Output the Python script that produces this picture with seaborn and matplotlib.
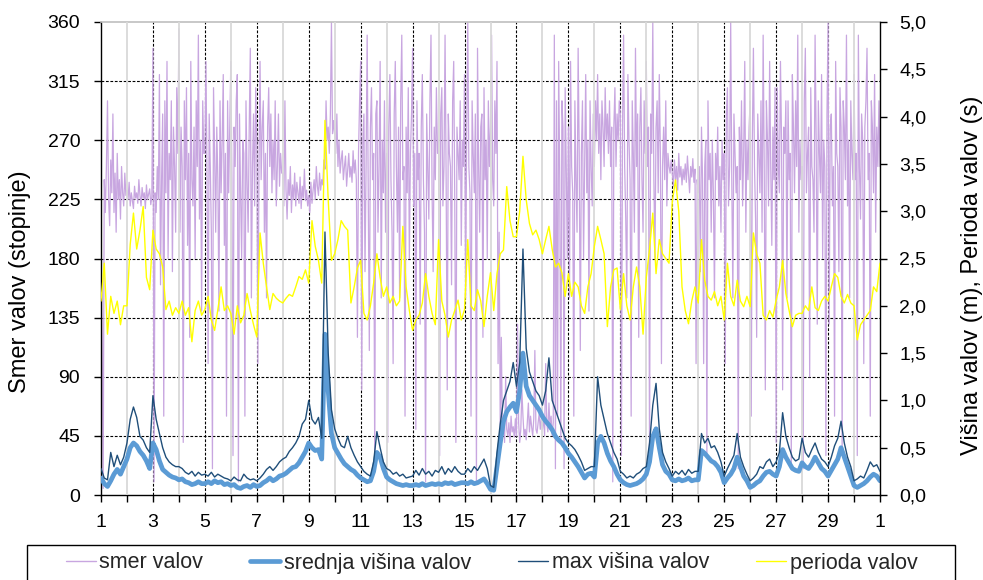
import numpy as np
import pandas as pd
import seaborn as sns
import matplotlib.pyplot as plt
from matplotlib.patches import Rectangle
from matplotlib.lines import Line2D
from matplotlib.ticker import FuncFormatter

# ---- data: one row per day ----
# wave direction (degrees), hourly readings
smer_valov = [
    [195, 120, 5, 240, 215, 250, 300, 225, 205, 255, 230, 290, 215, 245, 200, 260, 225, 240, 210, 250, 230, 220, 245, 228],
    [232, 225, 238, 220, 230, 224, 218, 235, 226, 230, 222, 240, 228, 220, 234, 226, 230, 218, 236, 225, 229, 233, 221, 227],
    [340, 10, 230, 215, 250, 225, 320, 160, 240, 290, 60, 300, 230, 330, 180, 260, 240, 300, 170, 280, 250, 200, 310, 260],
    [355, 200, 280, 250, 40, 300, 240, 310, 190, 260, 120, 330, 240, 220, 280, 180, 300, 250, 350, 210, 270, 140, 300, 260],
    [260, 330, 240, 100, 290, 250, 200, 20, 310, 260, 200, 280, 240, 140, 300, 230, 270, 320, 190, 260, 60, 300, 230, 280],
    [330, 240, 30, 280, 250, 300, 320, 10, 290, 230, 180, 270, 260, 60, 300, 240, 200, 280, 340, 150, 250, 290, 220, 310],
    [270, 100, 250, 330, 240, 280, 300, 200, 260, 150, 280, 310, 250, 290, 230, 270, 240, 300, 220, 250, 290, 235, 260, 245],
    [245, 220, 300, 232, 210, 240, 228, 250, 215, 236, 225, 245, 220, 238, 230, 222, 242, 218, 235, 226, 248, 224, 232, 220],
    [228, 215, 238, 222, 232, 240, 225, 250, 235, 228, 245, 232, 240, 236, 255, 248, 300, 270, 280, 260, 290, 360, 275, 285],
    [275, 260, 290, 250, 270, 245, 255, 262, 240, 250, 258, 235, 248, 260, 242, 250, 238, 262, 245, 255, 240, 120, 260, 300],
    [330, 80, 270, 290, 170, 250, 350, 230, 110, 280, 310, 240, 260, 20, 290, 300, 200, 250, 330, 150, 270, 230, 300, 200],
    [260, 40, 280, 320, 240, 200, 100, 290, 330, 250, 200, 280, 150, 300, 350, 240, 250, 60, 280, 230, 310, 180, 260, 290],
    [340, 220, 260, 50, 300, 240, 260, 130, 280, 320, 240, 200, 10, 290, 250, 210, 300, 350, 230, 170, 280, 240, 310, 260],
    [270, 30, 290, 310, 220, 250, 350, 240, 80, 290, 260, 250, 160, 300, 330, 220, 40, 280, 260, 240, 300, 190, 270, 250],
    [320, 150, 280, 360, 250, 230, 60, 300, 260, 230, 290, 10, 340, 250, 200, 280, 290, 120, 310, 240, 270, 180, 300, 250],
    [280, 350, 240, 220, 300, 260, 330, 100, 200, 50, 120, 45, 60, 40, 90, 50, 45, 55, 40, 60, 48, 52, 44, 58],
    [45, 130, 55, 40, 50, 80, 60, 45, 50, 42, 55, 70, 48, 60, 52, 45, 58, 110, 50, 47, 55, 62, 50, 58],
    [50, 60, 45, 100, 55, 48, 70, 52, 60, 45, 55, 350, 20, 300, 60, 330, 240, 40, 300, 280, 20, 310, 250, 180],
    [280, 150, 330, 250, 230, 60, 300, 240, 200, 340, 260, 110, 260, 300, 180, 250, 320, 230, 270, 140, 300, 250, 220, 290],
    [250, 300, 270, 320, 260, 290, 240, 300, 280, 250, 310, 270, 290, 260, 300, 250, 280, 10, 280, 310, 250, 290, 270, 300],
    [290, 30, 280, 350, 250, 210, 150, 320, 270, 240, 60, 300, 260, 200, 340, 250, 290, 120, 280, 310, 240, 200, 300, 260],
    [330, 250, 280, 30, 290, 260, 360, 240, 180, 280, 300, 230, 320, 260, 100, 250, 280, 240, 300, 220, 260, 250, 245, 255],
    [245, 235, 255, 240, 250, 232, 260, 242, 250, 236, 248, 240, 252, 238, 258, 244, 230, 250, 242, 256, 238, 248, 100, 240],
    [230, 250, 170, 280, 240, 100, 250, 270, 30, 300, 240, 260, 200, 270, 230, 150, 260, 240, 280, 220, 250, 200, 270, 240],
    [260, 100, 290, 310, 220, 250, 360, 240, 150, 290, 260, 230, 250, 20, 280, 240, 300, 220, 260, 330, 200, 270, 240, 280],
    [300, 60, 270, 340, 250, 210, 120, 290, 260, 230, 300, 200, 350, 250, 80, 300, 270, 220, 330, 250, 190, 280, 240, 310],
    [40, 310, 250, 230, 330, 270, 80, 280, 260, 300, 150, 300, 240, 260, 20, 320, 280, 230, 300, 250, 350, 200, 270, 240],
    [250, 20, 300, 340, 230, 260, 280, 90, 310, 250, 240, 200, 350, 270, 130, 300, 260, 230, 320, 180, 270, 250, 30, 290],
    [360, 130, 280, 290, 220, 250, 60, 330, 260, 250, 170, 310, 280, 30, 300, 280, 240, 350, 220, 270, 150, 300, 260, 240],
    [320, 240, 260, 30, 350, 250, 210, 290, 270, 100, 280, 300, 340, 240, 260, 60, 300, 280, 230, 320, 200, 280, 250, 300],
    [250],
]

# mean wave height (m), 8 readings per day (every 3 h)
srednja_visina = [
    [0.18, 0.12, 0.09, 0.15, 0.22, 0.27, 0.22, 0.30],
    [0.38, 0.50, 0.55, 0.52, 0.46, 0.42, 0.36, 0.28],
    [0.55, 0.48, 0.36, 0.27, 0.24, 0.21, 0.19, 0.18],
    [0.16, 0.17, 0.14, 0.13, 0.11, 0.12, 0.14, 0.12],
    [0.12, 0.14, 0.12, 0.15, 0.13, 0.14, 0.11, 0.12],
    [0.10, 0.11, 0.08, 0.07, 0.09, 0.10, 0.08, 0.11],
    [0.09, 0.10, 0.13, 0.15, 0.18, 0.15, 0.17, 0.20],
    [0.21, 0.23, 0.26, 0.29, 0.30, 0.34, 0.40, 0.46],
    [0.55, 0.50, 0.47, 0.48, 0.38, 1.70, 1.10, 0.65],
    [0.50, 0.44, 0.38, 0.33, 0.30, 0.27, 0.25, 0.21],
    [0.18, 0.16, 0.14, 0.15, 0.25, 0.45, 0.40, 0.28],
    [0.19, 0.16, 0.14, 0.12, 0.11, 0.10, 0.11, 0.10],
    [0.10, 0.11, 0.10, 0.12, 0.10, 0.11, 0.12, 0.11],
    [0.12, 0.11, 0.13, 0.12, 0.13, 0.11, 0.12, 0.13],
    [0.13, 0.12, 0.14, 0.12, 0.13, 0.15, 0.17, 0.12],
    [0.06, 0.05, 0.30, 0.55, 0.78, 0.88, 0.93, 0.97],
    [0.88, 1.10, 1.50, 1.15, 1.05, 1.00, 0.95, 0.90],
    [0.83, 0.78, 0.74, 0.69, 0.62, 0.58, 0.55, 0.50],
    [0.44, 0.40, 0.35, 0.30, 0.24, 0.18, 0.22, 0.23],
    [0.19, 0.55, 0.62, 0.55, 0.44, 0.36, 0.30, 0.22],
    [0.16, 0.13, 0.11, 0.10, 0.11, 0.12, 0.14, 0.17],
    [0.22, 0.35, 0.62, 0.70, 0.50, 0.32, 0.25, 0.22],
    [0.16, 0.15, 0.17, 0.15, 0.16, 0.18, 0.15, 0.16],
    [0.16, 0.47, 0.44, 0.40, 0.36, 0.34, 0.30, 0.24],
    [0.13, 0.18, 0.22, 0.28, 0.40, 0.30, 0.20, 0.15],
    [0.08, 0.10, 0.13, 0.15, 0.20, 0.24, 0.25, 0.22],
    [0.20, 0.30, 0.48, 0.40, 0.34, 0.28, 0.26, 0.25],
    [0.34, 0.30, 0.28, 0.33, 0.40, 0.34, 0.28, 0.25],
    [0.20, 0.26, 0.32, 0.38, 0.50, 0.40, 0.30, 0.20],
    [0.10, 0.08, 0.10, 0.12, 0.15, 0.19, 0.22, 0.20],
    [0.15],
]

# maximum wave height (m), 8 readings per day
max_visina = [
    [0.28, 0.18, 0.16, 0.45, 0.30, 0.42, 0.32, 0.40],
    [0.55, 0.80, 0.93, 0.82, 0.62, 0.58, 0.50, 0.45],
    [1.05, 0.80, 0.65, 0.50, 0.40, 0.35, 0.32, 0.30],
    [0.30, 0.28, 0.24, 0.22, 0.25, 0.20, 0.24, 0.21],
    [0.22, 0.20, 0.24, 0.19, 0.22, 0.20, 0.18, 0.17],
    [0.15, 0.19, 0.16, 0.15, 0.22, 0.18, 0.16, 0.17],
    [0.15, 0.18, 0.22, 0.27, 0.30, 0.26, 0.30, 0.35],
    [0.38, 0.40, 0.46, 0.50, 0.55, 0.62, 0.75, 0.80],
    [1.00, 0.80, 0.75, 0.82, 0.60, 2.78, 1.50, 0.90],
    [0.70, 0.60, 0.52, 0.50, 0.62, 0.50, 0.42, 0.35],
    [0.30, 0.25, 0.22, 0.20, 0.35, 0.67, 0.50, 0.35],
    [0.28, 0.26, 0.22, 0.24, 0.20, 0.22, 0.18, 0.19],
    [0.20, 0.26, 0.21, 0.28, 0.22, 0.25, 0.20, 0.26],
    [0.24, 0.30, 0.22, 0.28, 0.24, 0.30, 0.25, 0.22],
    [0.22, 0.28, 0.24, 0.30, 0.26, 0.32, 0.38, 0.28],
    [0.10, 0.08, 0.45, 0.75, 1.00, 1.10, 1.20, 1.40],
    [1.15, 1.40, 2.60, 1.55, 1.30, 1.20, 1.10, 1.05],
    [0.95, 1.10, 1.45, 1.00, 0.90, 0.80, 0.70, 0.60],
    [0.55, 0.52, 0.48, 0.42, 0.35, 0.26, 0.28, 0.30],
    [0.30, 1.25, 0.95, 0.80, 0.65, 0.55, 0.45, 0.38],
    [0.25, 0.22, 0.18, 0.20, 0.18, 0.22, 0.24, 0.28],
    [0.30, 0.55, 0.95, 1.18, 0.70, 0.45, 0.35, 0.28],
    [0.20, 0.25, 0.22, 0.26, 0.21, 0.27, 0.23, 0.25],
    [0.25, 0.65, 0.55, 0.60, 0.50, 0.52, 0.45, 0.35],
    [0.20, 0.28, 0.35, 0.42, 0.65, 0.40, 0.30, 0.22],
    [0.15, 0.18, 0.22, 0.30, 0.28, 0.35, 0.38, 0.30],
    [0.35, 0.45, 0.87, 0.62, 0.50, 0.40, 0.36, 0.38],
    [0.60, 0.45, 0.40, 0.48, 0.55, 0.45, 0.38, 0.35],
    [0.30, 0.40, 0.52, 0.60, 0.78, 0.55, 0.40, 0.30],
    [0.15, 0.17, 0.20, 0.18, 0.26, 0.35, 0.30, 0.32],
    [0.25],
]

# wave period (s), 8 readings per day
perioda = [
    [2.05, 2.45, 1.70, 2.10, 1.92, 2.05, 1.80, 2.00],
    [2.00, 2.65, 2.98, 2.60, 2.80, 3.05, 2.30, 2.17],
    [2.80, 2.60, 2.55, 2.41, 1.96, 2.05, 1.90, 1.98],
    [1.92, 2.05, 1.90, 1.98, 1.62, 1.95, 2.05, 1.90],
    [1.96, 2.10, 1.85, 1.74, 1.96, 2.20, 1.95, 2.00],
    [1.92, 1.70, 2.00, 1.82, 1.90, 2.13, 1.95, 1.80],
    [1.67, 2.77, 2.45, 2.20, 1.96, 2.13, 2.08, 2.05],
    [2.03, 2.08, 2.12, 2.10, 2.20, 2.31, 2.28, 2.38],
    [2.24, 2.90, 2.63, 2.48, 2.24, 3.96, 3.12, 2.48],
    [2.55, 2.70, 2.90, 2.84, 2.80, 2.03, 2.20, 2.40],
    [2.48, 1.92, 1.85, 2.00, 2.24, 2.55, 2.30, 2.10],
    [2.20, 2.03, 2.10, 2.00, 2.05, 2.84, 2.20, 1.95],
    [1.74, 1.85, 1.90, 2.03, 2.34, 2.10, 1.92, 1.80],
    [2.70, 2.05, 1.90, 1.67, 1.85, 1.95, 2.06, 1.85],
    [1.96, 2.70, 2.00, 1.95, 2.17, 2.05, 1.78, 2.10],
    [2.35, 1.95, 2.34, 2.55, 2.59, 3.26, 2.90, 2.73],
    [2.73, 3.00, 3.58, 3.12, 2.87, 2.75, 2.80, 2.70],
    [2.55, 2.70, 2.84, 2.60, 2.41, 2.45, 2.35, 2.10],
    [2.34, 2.10, 2.25, 2.20, 2.00, 1.92, 2.20, 2.34],
    [2.63, 2.84, 2.70, 2.55, 1.78, 2.20, 2.38, 2.40],
    [1.96, 2.34, 2.00, 1.85, 2.20, 2.41, 2.20, 1.70],
    [2.30, 2.60, 2.98, 2.34, 2.70, 2.55, 2.50, 2.45],
    [3.10, 3.33, 3.00, 2.20, 1.95, 1.81, 2.05, 2.20],
    [2.03, 2.70, 2.27, 2.10, 2.06, 2.15, 2.00, 2.10],
    [1.85, 2.45, 2.10, 2.00, 2.27, 2.05, 1.99, 2.10],
    [1.99, 2.77, 2.55, 2.45, 1.90, 1.85, 1.95, 1.88],
    [2.06, 2.20, 2.48, 2.13, 1.95, 1.78, 1.90, 1.92],
    [1.92, 2.00, 1.95, 2.20, 1.98, 1.95, 2.05, 2.10],
    [2.05, 2.20, 2.34, 2.30, 2.10, 2.03, 2.12, 2.03],
    [2.00, 1.64, 1.80, 1.85, 1.90, 1.95, 2.20, 2.15],
    [2.45],
]

day_labels = [str(d) for d in range(1, 31, 2)] + ["1"]
left_ticks = list(range(0, 361, 45))
right_ticks = [0.0, 0.5, 1.0, 1.5, 2.0, 2.5, 3.0, 3.5, 4.0, 4.5, 5.0]

legend_labels = ["smer valov", "srednja višina valov", "max višina valov", "perioda valov"]
colors = {"smer": "#C8A6E0", "srednja": "#5B9BD5", "max": "#1F4E79", "perioda": "#FFFF00"}


def to_frame(rows, name):
    """Spread each day's readings evenly over that day."""
    days, vals = [], []
    for i, row in enumerate(rows):
        for j, v in enumerate(row):
            days.append(1 + i + j / len(row))
            vals.append(v)
    return pd.DataFrame({"dan": days, name: vals})


df_dir = to_frame(smer_valov, "smer")
df_sred = to_frame(srednja_visina, "srednja")
df_max = to_frame(max_visina, "max")
df_per = to_frame(perioda, "perioda")

# ---- figure ----
sns.set_theme(style="white")
plt.rcParams["font.family"] = ["Liberation Sans", "DejaVu Sans"]

fig = plt.figure(figsize=(9.83, 5.8), dpi=100)
ax = fig.add_axes([101 / 983, 1 - 495 / 580, 779 / 983, 473 / 580])
ax2 = ax.twinx()

# grid on the direction axis (behind the data)
dash = (0, (2.5, 1.5))
for v in left_ticks[1:-1]:
    ax.axhline(v, color="black", lw=0.8, ls=dash, zorder=0.5)
for d in range(3, 31, 2):
    ax.axvline(d, color="black", lw=0.8, ls=dash, zorder=0.5)

sns.lineplot(data=df_dir, x="dan", y="smer", ax=ax, color=colors["smer"],
             linewidth=0.9, estimator=None, legend=False, zorder=2)

ax2.patch.set_visible(False)
for d in range(2, 31, 2):
    ax2.axvline(d, color="#D9D9D9", lw=1.3, zorder=0.5)

sns.lineplot(data=df_sred, x="dan", y="srednja", ax=ax2, color=colors["srednja"],
             linewidth=3.4, estimator=None, legend=False, zorder=2)
sns.lineplot(data=df_max, x="dan", y="max", ax=ax2, color=colors["max"],
             linewidth=1.0, estimator=None, legend=False, zorder=3)
sns.lineplot(data=df_per, x="dan", y="perioda", ax=ax2, color=colors["perioda"],
             linewidth=1.0, estimator=None, legend=False, zorder=4)

# axes, ticks, spines
ax.set_xlim(1, 31)
ax.set_ylim(0, 360)
ax2.set_ylim(0, 5)
ax.set_xticks(range(1, 32))
ax.set_xticklabels([day_labels[(d - 1) // 2] if d % 2 == 1 else "" for d in range(1, 32)])
ax.set_yticks(left_ticks)
ax2.set_yticks(right_ticks)
ax2.yaxis.set_major_formatter(FuncFormatter(lambda v, p: f"{v:.1f}".replace(".", ",")))

ax.set_xlabel("")
ax.set_ylabel("")
ax2.set_ylabel("")

ax.tick_params(axis="both", which="major", labelsize=14, colors="black",
               direction="out", length=5, width=1, left=True, bottom=True)
ax.tick_params(axis="y", pad=10)
ax.tick_params(axis="x", pad=9)
ax2.tick_params(axis="y", labelsize=14, colors="black", direction="out",
                length=5, width=1, right=True, pad=9)

for s in ["left", "bottom"]:
    ax.spines[s].set_color("black")
    ax.spines[s].set_linewidth(1.0)
ax.spines["top"].set_color("#BFBFBF")
ax.spines["top"].set_linewidth(1.2)
ax.spines["right"].set_visible(False)
for s in ["left", "top", "bottom"]:
    ax2.spines[s].set_visible(False)
ax2.spines["right"].set_color("black")
ax2.spines["right"].set_linewidth(1.0)

fig.text(20 / 983, 1 - 282 / 580, "Smer valov (stopinje)", rotation=90,
         ha="center", va="center", fontsize=17, color="black")
fig.text(972 / 983, 1 - 275 / 580, "Višina valov (m), Perioda valov (s)", rotation=90,
         ha="center", va="center", fontsize=17, color="black")

# legend below the plot
handles = [
    Line2D([], [], color=colors["smer"], lw=1.0),
    Line2D([], [], color=colors["srednja"], lw=3.4),
    Line2D([], [], color=colors["max"], lw=1.0),
    Line2D([], [], color=colors["perioda"], lw=1.0),
]
fig.legend(handles, legend_labels, loc="center", bbox_to_anchor=(0.5, 1 - 563 / 580),
           ncol=4, frameon=False, fontsize=15.5, handlelength=1.4,
           handletextpad=0.15, columnspacing=2.2)
fig.patches.append(Rectangle((27 / 983, -0.05), 928 / 983, 0.05 + 35 / 580,
                             transform=fig.transFigure, fill=False,
                             edgecolor="black", lw=1.0))

fig.savefig("out.png", dpi=100, facecolor="white")
